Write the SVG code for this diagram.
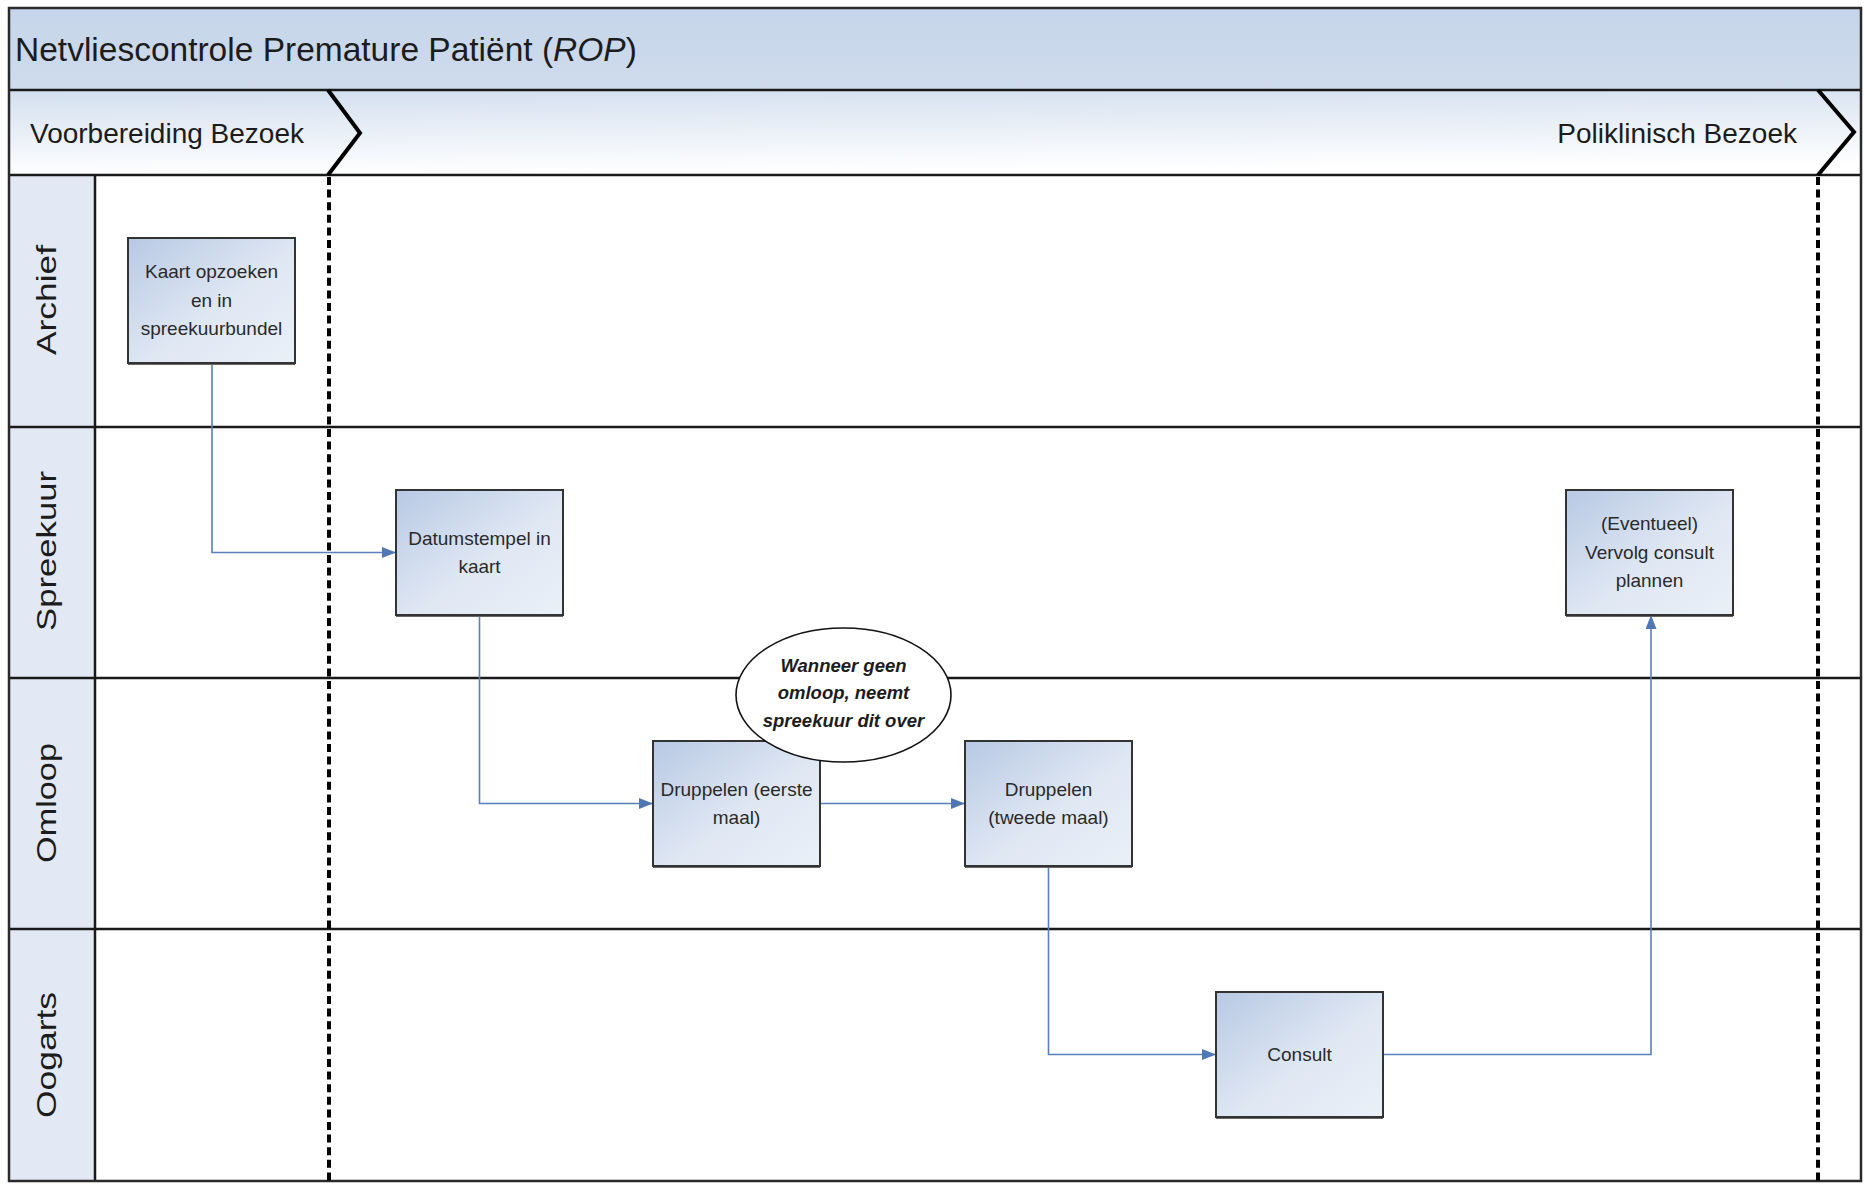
<svg xmlns="http://www.w3.org/2000/svg" width="1865" height="1185" viewBox="0 0 1865 1185">
  <defs>
    <linearGradient id="phaseFill" x1="0" y1="0" x2="0.15" y2="1">
      <stop offset="0" stop-color="#d3dfef"/>
      <stop offset="1" stop-color="#ffffff"/>
    </linearGradient>
    <linearGradient id="titleFill" x1="0" y1="0" x2="0" y2="1">
      <stop offset="0" stop-color="#c6d5ea"/>
      <stop offset="1" stop-color="#cfdbed"/>
    </linearGradient>
    <linearGradient id="boxFill" x1="0" y1="0" x2="1" y2="1">
      <stop offset="0" stop-color="#b8c9e4"/>
      <stop offset="0.55" stop-color="#dfe7f3"/>
      <stop offset="1" stop-color="#eaf0f8"/>
    </linearGradient>
    <marker id="arrow" viewBox="0 0 14 11" refX="14" refY="5.5" markerUnits="userSpaceOnUse" markerWidth="14" markerHeight="11" orient="auto">
      <path d="M0,0 L14,5.5 L0,11 z" fill="#4f78b4"/>
    </marker>
  </defs>
  <style>
    text { font-family: "Liberation Sans", Arial, sans-serif; fill: #1c1c1c; }
    .title { font-size: 33.5px; }
    .phase { font-size: 28px; }
    .lane-label { font-size: 28px; text-anchor: middle; }
    .box rect.body { fill: url(#boxFill); stroke: #333333; stroke-width: 2; }
    .box rect.shade { fill: #666666; }
    .box text { font-size: 19px; text-anchor: middle; fill: #2a2a2a; }
    .note ellipse { fill: #ffffff; stroke: #111111; stroke-width: 1.6; }
    .note text { font-size: 18.5px; font-weight: bold; font-style: italic; text-anchor: middle; }
    .lane-line { stroke: #1a1a1a; stroke-width: 2.5; fill: none; }
    .phase-sep { stroke: #000000; stroke-width: 4; fill: none; }
    .phase-dash { stroke: #000000; stroke-width: 4; stroke-dasharray: 8 4.6; fill: none; }
    .conn { stroke: #5b80b8; stroke-width: 1.6; fill: none; }
  </style>

  <!-- background -->
  <rect x="0" y="0" width="1865" height="1185" fill="#ffffff"/>

  <!-- pool header and phase band -->
  <g id="pool-header">
    <rect x="9" y="8" width="1852" height="82" fill="url(#titleFill)"/>
    <text class="title" x="15" y="61">Netvliescontrole Premature Patiënt (<tspan font-style="italic">ROP</tspan>)</text>
  </g>
  <g id="phase-band">
    <rect x="9" y="90" width="1852" height="85" fill="url(#phaseFill)"/>
    <text class="phase" x="30" y="143">Voorbereiding Bezoek</text>
    <text class="phase" x="1797" y="143" text-anchor="end">Poliklinisch Bezoek</text>
  </g>

  <!-- lane label column -->
  <rect x="9" y="175" width="86" height="1006" fill="#e2e9f4"/>

  <!-- lane labels -->
  <g id="lane-archief">
    <text class="lane-label" transform="translate(56,300) rotate(-90)" textLength="110" lengthAdjust="spacingAndGlyphs">Archief</text>
  </g>
  <g id="lane-spreekuur">
    <text class="lane-label" transform="translate(56,551) rotate(-90)" textLength="160" lengthAdjust="spacingAndGlyphs">Spreekuur</text>
  </g>
  <g id="lane-omloop">
    <text class="lane-label" transform="translate(56,803) rotate(-90)" textLength="120" lengthAdjust="spacingAndGlyphs">Omloop</text>
  </g>
  <g id="lane-oogarts">
    <text class="lane-label" transform="translate(56,1055) rotate(-90)" textLength="126" lengthAdjust="spacingAndGlyphs">Oogarts</text>
  </g>

  <!-- grid lines -->
  <g id="grid">
    <line class="lane-line" x1="9" y1="90" x2="1861" y2="90"/>
    <line class="lane-line" x1="9" y1="175" x2="1861" y2="175"/>
    <line class="lane-line" x1="9" y1="427" x2="1861" y2="427"/>
    <line class="lane-line" x1="9" y1="678" x2="1861" y2="678"/>
    <line class="lane-line" x1="9" y1="929" x2="1861" y2="929"/>
    <line class="lane-line" x1="95" y1="175" x2="95" y2="1181"/>
    <rect x="9" y="8" width="1852" height="1173" fill="none" stroke="#2a2a2a" stroke-width="2.5"/>
    <!-- phase separators -->
    <path class="phase-sep" d="M328,90 L360,133 L328,175"/>
    <path class="phase-sep" d="M1818,90 L1854,132 L1818,175"/>
    <line class="phase-dash" x1="329" y1="177" x2="329" y2="1181"/>
    <line class="phase-dash" x1="1818" y1="177" x2="1818" y2="1181"/>
  </g>

  <!-- connectors -->
  <g id="connectors">
    <path class="conn" d="M212,364 V552.5 H396" marker-end="url(#arrow)"/>
    <path class="conn" d="M479.5,616 V803.5 H653" marker-end="url(#arrow)"/>
    <path class="conn" d="M821,803.5 H965" marker-end="url(#arrow)"/>
    <path class="conn" d="M1048.5,867 V1054.5 H1216" marker-end="url(#arrow)"/>
    <path class="conn" d="M1383,1054.5 H1651 V615" marker-end="url(#arrow)"/>
  </g>

  <!-- process steps -->
  <g id="kaart-opzoeken" class="box">
    <rect class="shade" x="128" y="361" width="167" height="4"/>
    <rect class="body" x="128" y="238" width="167" height="125"/>
    <text x="211.5" y="278">Kaart opzoeken</text>
    <text x="211.5" y="306.5">en in</text>
    <text x="211.5" y="335">spreekuurbundel</text>
  </g>
  <g id="datumstempel" class="box">
    <rect class="shade" x="396" y="613" width="167" height="4"/>
    <rect class="body" x="396" y="490" width="167" height="125"/>
    <text x="479.5" y="544.5">Datumstempel in</text>
    <text x="479.5" y="573">kaart</text>
  </g>
  <g id="druppelen-eerste" class="box">
    <rect class="shade" x="653" y="864" width="167" height="4"/>
    <rect class="body" x="653" y="741" width="167" height="125"/>
    <text x="736.5" y="795.5">Druppelen (eerste</text>
    <text x="736.5" y="824">maal)</text>
  </g>
  <g id="druppelen-tweede" class="box">
    <rect class="shade" x="965" y="864" width="167" height="4"/>
    <rect class="body" x="965" y="741" width="167" height="125"/>
    <text x="1048.5" y="795.5">Druppelen</text>
    <text x="1048.5" y="824">(tweede maal)</text>
  </g>
  <g id="consult" class="box">
    <rect class="shade" x="1216" y="1115" width="167" height="4"/>
    <rect class="body" x="1216" y="992" width="167" height="125"/>
    <text x="1299.5" y="1061">Consult</text>
  </g>
  <g id="vervolg-consult" class="box">
    <rect class="shade" x="1566" y="613" width="167" height="4"/>
    <rect class="body" x="1566" y="490" width="167" height="125"/>
    <text x="1649.5" y="530">(Eventueel)</text>
    <text x="1649.5" y="558.5">Vervolg consult</text>
    <text x="1649.5" y="587">plannen</text>
  </g>

  <!-- annotation -->
  <g id="note-omloop" class="note">
    <ellipse cx="843.5" cy="695" rx="107.5" ry="67"/>
    <text x="843.5" y="672">Wanneer geen</text>
    <text x="843.5" y="699">omloop, neemt</text>
    <text x="843.5" y="727">spreekuur dit over</text>
  </g>
</svg>
